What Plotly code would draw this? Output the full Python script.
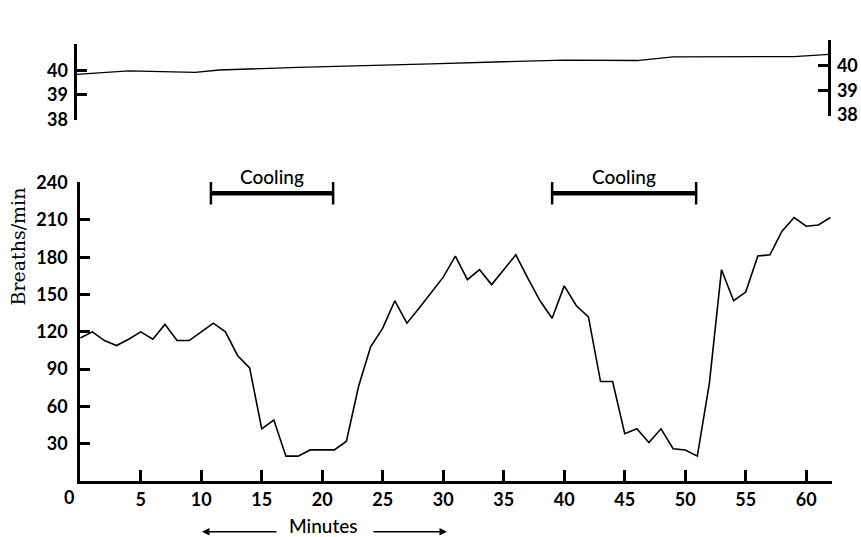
import plotly.graph_objects as go

# ---- data ----
minutes = list(range(0, 63))
breaths = [115, 120, 113, 109, 114, 120, 114, 126, 113, 113,
           120, 127, 120, 101, 91, 42, 49, 20, 20, 25,
           25, 25, 32, 76, 108, 123, 145, 127, 139, 152,
           164, 181, 162, 170, 158, 170, 182, 163, 145, 131,
           157, 141, 132, 80, 80, 38, 42, 31, 42, 26,
           25, 20, 79, 170, 145, 152, 181, 182, 201, 212,
           205, 206, 212]

temp_minutes = [-0.3, 4, 9.5, 11.5, 18, 24, 29, 35, 40, 46, 49, 59, 61.9]
temp_values = [39.85, 39.99, 39.93, 40.03, 40.14, 40.2, 40.28, 40.37, 40.44, 40.42, 40.57, 40.58, 40.67]

cooling_start = [10.8, 39.0]
cooling_end = [20.9, 50.9]
cooling_level = 231.5
cooling_label = "Cooling"

x_ticks = list(range(0, 61, 5))
y_ticks = list(range(30, 241, 30))
t_ticks = [38, 39, 40]

# ---- figure ----
tickfont = dict(family="Lato", size=18, color="black", weight="bold")
textfont = dict(family="Lato", size=19, color="black", weight=500)
fig = go.Figure()

fig.add_trace(go.Scatter(x=minutes, y=breaths, mode="lines",
                         line=dict(color="black", width=1.6),
                         xaxis="x", yaxis="y", showlegend=False, hoverinfo="skip"))

fig.add_trace(go.Scatter(x=temp_minutes, y=temp_values, mode="lines",
                         line=dict(color="black", width=1.3),
                         xaxis="x2", yaxis="y2", showlegend=False, hoverinfo="skip"))

cx, cy = [], []
for s, e in zip(cooling_start, cooling_end):
    cx += [s, e, None]
    cy += [cooling_level, cooling_level, None]
fig.add_trace(go.Scatter(x=cx, y=cy, mode="lines+markers",
                         line=dict(color="black", width=4.5),
                         marker=dict(symbol="line-ns-open", size=16,
                                     line=dict(color="black", width=2.5)),
                         cliponaxis=False, xaxis="x", yaxis="y",
                         showlegend=False, hoverinfo="skip"))

# empty trace to activate the right-hand temperature axis
fig.add_trace(go.Scatter(x=[], y=[], xaxis="x2", yaxis="y3", showlegend=False))

axis_common = dict(showline=True, linecolor="black", linewidth=3, ticks="inside",
                   tickcolor="black", tickwidth=2.5, showgrid=False, zeroline=False,
                   tickfont=tickfont, automargin=False)

fig.update_layout(
    width=861, height=537,
    margin=dict(l=76, r=29, t=40, b=56),
    paper_bgcolor="white", plot_bgcolor="rgba(0,0,0,0)",
    xaxis=dict(domain=[0.0056, 1.0], range=[0, 62.13], anchor="y",
               tickvals=x_ticks, ticktext=["" if v == 0 else str(v) for v in x_ticks],
               ticklen=11, ticklabelstandoff=0, **axis_common),
    yaxis=dict(domain=[0, 0.6787], range=[0, 240.8], anchor="x",
               tickvals=y_ticks, ticklen=10, ticklabelstandoff=6, **axis_common),
    xaxis2=dict(domain=[0.0007, 0.9964], range=[-0.306, 61.91], anchor="y2",
                visible=False, automargin=False),
    yaxis2=dict(domain=[0.8186, 0.9909], range=[37.97, 41.10], anchor="x2",
                tickvals=t_ticks, ticklen=10, ticklabelstandoff=2, side="left",
                **axis_common),
    yaxis3=dict(domain=[0.8283, 1.0], range=[37.97, 41.04], anchor="free",
                position=0.9964, side="right",
                tickvals=t_ticks, ticklen=10, ticklabelstandoff=2,
                **axis_common),
)

annotations = []
for s, e in zip(cooling_start, cooling_end):
    annotations.append(dict(x=(s + e) / 2, xref="x", y=0.6916, yref="paper",
                            text=cooling_label, showarrow=False, font=textfont,
                            xanchor="center", yanchor="middle"))
annotations.append(dict(x=0, xref="x", y=0, yref="y", text="0", showarrow=False,
                        xshift=-11, yshift=-16, xanchor="center", yanchor="middle",
                        font=tickfont))
annotations.append(dict(x=-0.0767, xref="paper", y=0.5317, yref="paper",
                        text="Breaths/min", textangle=-90, showarrow=False,
                        font=dict(family="DejaVu Serif", size=19, color="black"),
                        xanchor="center", yanchor="middle"))
annotations.append(dict(x=0.328, xref="paper", y=-0.129, yref="paper",
                        text="Minutes", showarrow=False, font=textfont,
                        xanchor="center", yanchor="bottom", borderpad=0))
annotations.append(dict(x=0.1667, xref="paper", y=-0.115, yref="paper", text="",
                        showarrow=True, ax=76, ay=0, arrowhead=2, arrowsize=1,
                        arrowwidth=1.5, arrowcolor="black"))
annotations.append(dict(x=0.4907, xref="paper", y=-0.115, yref="paper", text="",
                        showarrow=True, ax=-75, ay=0, arrowhead=2, arrowsize=1,
                        arrowwidth=1.5, arrowcolor="black"))
fig.update_layout(annotations=annotations)

fig.write_html("out.html")
